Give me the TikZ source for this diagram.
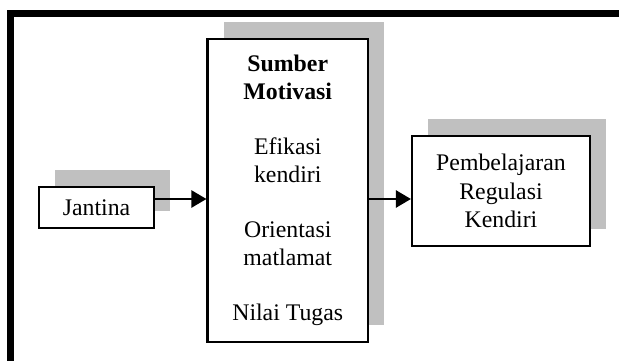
\documentclass[tikz,border=0pt]{standalone}
\usepackage{fontspec}
\setmainfont{Liberation Serif}
\usetikzlibrary{arrows.meta,shadows}
\definecolor{shadowgray}{RGB}{192,192,192}
\begin{document}
\begin{tikzpicture}[x=1pt,y=-1pt,
  box/.style={draw=black, line width=2.1pt, fill=white, rectangle, inner sep=0pt, align=center,
    font={\fontsize{23.8}{27.6}\selectfont},
    general shadow={fill=shadowgray, draw=none, shadow xshift=16pt, shadow yshift=17pt}},
  arr/.style={line width=2.4pt, -{Triangle[length=15pt,width=17pt]}},
  frame/.style={line width=6.8pt, line join=miter}]
\useasboundingbox (0,0) rectangle (619,361);
\clip (0,0) rectangle (619,361);
\fill[white] (0,0) rectangle (619,361);
\draw[frame] (10.4,400) -- (10.4,13.4) -- (700,13.4);

\node[box, minimum width=115pt, minimum height=41pt] (jantina) at (96.5,207.5) {Jantina};
\node[box, minimum width=160.5pt, minimum height=303.3pt] (main) at (287.75,190.35)
  {\textbf{Sumber}\\\textbf{Motivasi}\\[27.6pt]Efikasi\\kendiri\\[27.6pt]Orientasi\\matlamat\\[27.6pt]Nilai Tugas};
\node[box, minimum width=178pt, minimum height=110pt, font={\fontsize{23.8}{28.5}\selectfont}] (right) at (501,191)
  {Pembelajaran\\Regulasi\\Kendiri};

\coordinate (a1) at ([yshift=8.5pt]jantina.east);
\draw[arr] (a1) -- (a1 -| main.west);
\coordinate (a2) at (main.east |- a1);
\draw[arr] (a2) -- (a2 -| right.west);
\end{tikzpicture}
\end{document}
